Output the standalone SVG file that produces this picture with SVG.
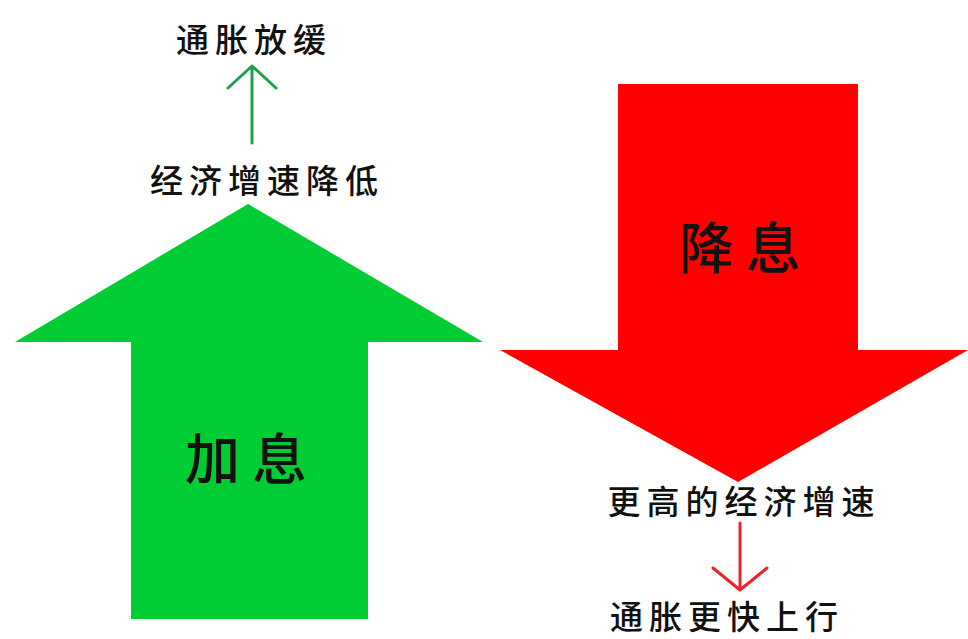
<svg xmlns="http://www.w3.org/2000/svg" width="968" height="639" viewBox="0 0 968 639">
<style>
text{font-family:"Noto Sans CJK SC","Noto Sans",sans-serif;fill:#111;text-anchor:middle;dominant-baseline:central;font-weight:500}
.lbl{font-size:33px;letter-spacing:6px}
.big{font-size:55px;letter-spacing:12px}
</style>
<rect width="968" height="639" fill="#fff"/>
<g id="up-arrow">
<polygon points="248,204 483,342 368,342 368,619 131,619 131,342 15,342" fill="#00CC33"/>
<text class="big" x="252" y="455">加息</text>
</g>
<g id="down-arrow">
<polygon points="618,84 858,84 858,350 968,350 738,482 500,350 618,350" fill="#FF0000"/>
<text class="big" x="746" y="244">降息</text>
</g>
<g id="n-slow"><text class="lbl" x="254" y="38">通胀放缓</text></g>
<g id="n-lower"><text class="lbl" x="267" y="179">经济增速降低</text></g>
<g id="n-higher"><text class="lbl" x="744" y="500">更高的经济增速</text></g>
<g id="n-faster"><text class="lbl" x="727" y="615">通胀更快上行</text></g>
<g id="connectors" fill="none" stroke-width="3" stroke-linecap="round" stroke-linejoin="round">
<path d="M252,143 V66 M228,88 L252,66 L276,88" stroke="#1DA34A"/>
<path d="M740,523 V590 M713,568 L740,590 L767,568" stroke="#E8262A"/>
</g>
</svg>
